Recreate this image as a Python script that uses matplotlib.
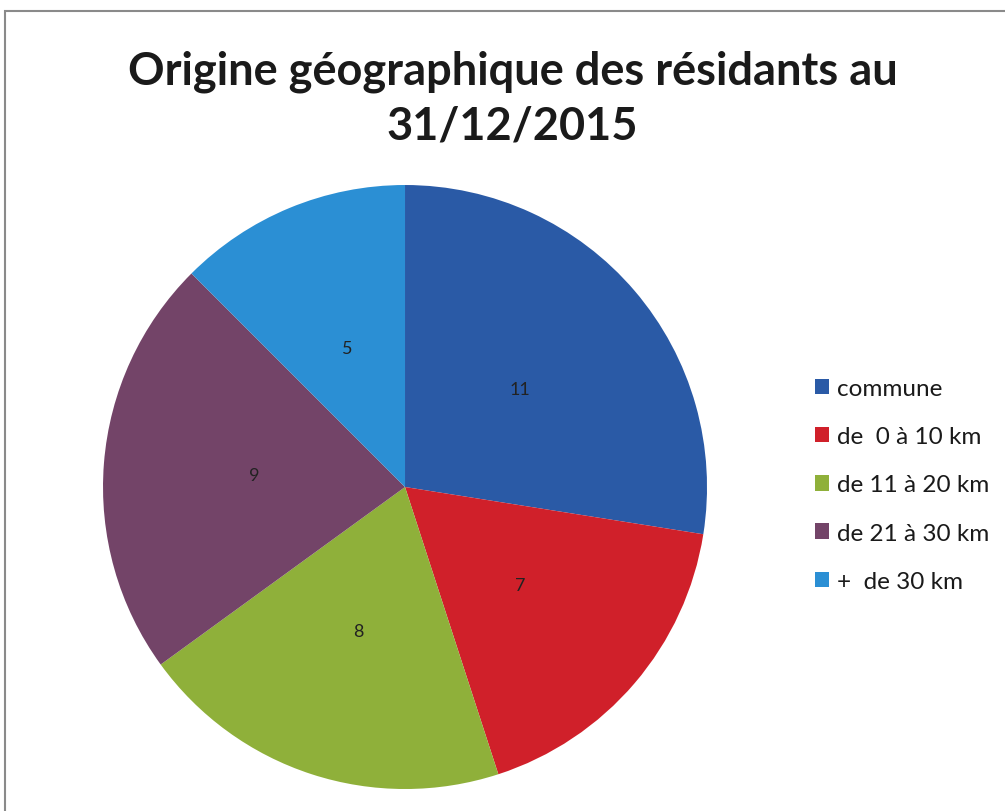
import matplotlib
matplotlib.use("Agg")
import matplotlib.pyplot as plt
from matplotlib.patches import Rectangle

categories = ["commune", "de  0 à 10 km", "de 11 à 20 km", "de 21 à 30 km", "+  de 30 km"]
values = [11, 7, 8, 9, 5]
colors = ["#2a5aa6", "#d0202a", "#8fb03a", "#734468", "#2b8fd4"]

plt.rcParams["font.family"] = ["Lato", "DejaVu Sans"]

fig = plt.figure(figsize=(10.05, 8.12), dpi=100)

# outer chart frame (runs off the right and bottom edges)
fig.patches.append(Rectangle((5 / 1005, -0.02), 1.1, 1 - 12 / 812 + 0.02,
                             transform=fig.transFigure, fill=False,
                             edgecolor="#8a8a8a", lw=1.5))

fig.text(0.51, 1 - 99 / 812, "Origine géographique des résidants au\n31/12/2015",
         ha="center", va="center", fontsize=32.5, fontweight="bold",
         color="#1a1a1a", linespacing=1.35)

ax = fig.add_axes([0.1025, 0.027, 0.601, 0.744])
total = sum(values)
wedges, _, autotexts = ax.pie(
    values, colors=colors, startangle=90, counterclock=False,
    autopct=lambda p: f"{round(p * total / 100)}", pctdistance=0.5,
    textprops=dict(fontsize=13, color="#222222"),
)
ax.set_xlim(-1, 1)
ax.set_ylim(-1, 1)
ax.set_aspect("equal")

fig.legend(wedges, categories, loc="center left",
           bbox_to_anchor=(793 / 1005, 1 - 486 / 812), frameon=False,
           fontsize=17.5, handlelength=0.6, handleheight=0.6,
           handletextpad=0.3, labelspacing=1.12, labelcolor="#1a1a1a")

fig.savefig("out.png", dpi=100)
